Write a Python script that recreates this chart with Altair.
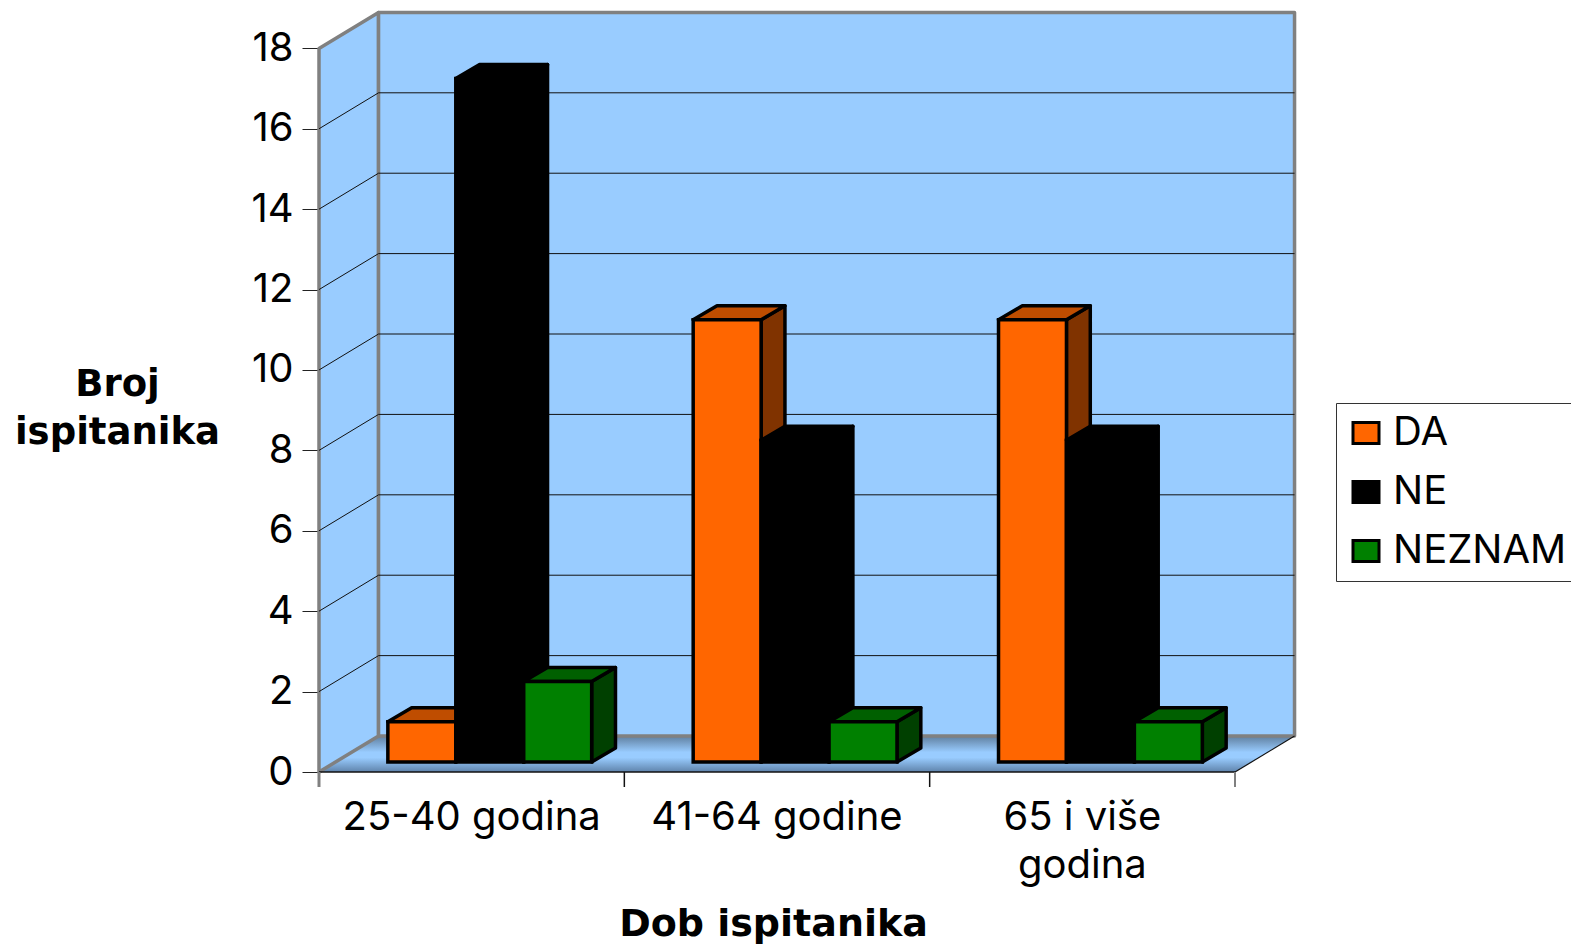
import altair as alt
import pandas as pd

CATEGORIES = ["25-40 godina", "41-64 godine", "65 i više\ngodina"]
SERIES = ["DA", "NE", "NEZNAM"]
VALUES = {"DA": [1, 11, 11], "NE": [17, 8, 8], "NEZNAM": [2, 1, 1]}
FRONT = ["#FF6600", "#000000", "#008000"]
TOP = ["#BF4D00", "#000000", "#006000"]
SIDE = ["#803300", "#000000", "#004000"]
TICKS = list(range(0, 20, 2))

FONT = "Inter"
BOLD_FONT = "DejaVu Sans"
WIDTH, HEIGHT = 976, 760
X_MAX, Y_MAX = 3.1965, 18.905
WALL_DX, WALL_DY = 0.195, 0.895     # wall depth in scale units
BAR_DX, BAR_DY = 0.078, 0.348       # bar depth
BAR_W, BAR_START, BAR_BASE = 0.2225, 0.2255, 0.25
TICK_DOWN = 15 / 40.2

X_SCALE = alt.Scale(domain=[0, X_MAX], nice=False, zero=False)
Y_SCALE = alt.Scale(domain=[0, Y_MAX], nice=False, zero=False)
X = lambda: alt.X("x:Q", scale=X_SCALE)
Y = lambda: alt.Y("y:Q", scale=Y_SCALE)


def poly(pts, pid=0):
    return [{"x": a, "y": b, "pid": pid, "i": n} for n, (a, b) in enumerate(pts)]


def shape(rows, **mark):
    m = dict(interpolate="linear-closed", strokeJoin="round")
    m.update(mark)
    return alt.Chart(pd.DataFrame(rows)).mark_line(**m).encode(
        x=X(), y=Y(), detail="pid:N", order="i:Q"
    )


axes_df = pd.DataFrame({"x": [0.0], "y": [0.0]})
axis_layer = alt.Chart(axes_df).mark_point(opacity=0).encode(
    x=alt.X("x:Q", scale=X_SCALE,
            title="Dob ispitanika",
            axis=alt.Axis(values=[], domain=False, ticks=False, labels=False, grid=False,
                          titleFont=BOLD_FONT, titleFontSize=38, titleFontWeight="bold", titleColor="#000000",
                          titleX=454, titleY=152, titleAlign="center", titleBaseline="middle")),
    y=alt.Y("y:Q", scale=Y_SCALE,
            title=["Broj", "ispitanika"],
            axis=alt.Axis(values=TICKS, domain=False, grid=False, tickSize=17, tickColor="#222222",
                          tickWidth=1, labelPadding=9, labelFont=FONT, labelFontSize=40, labelColor="#000000",
                          labelOverlap=False, labelFlush=False,
                          titleFont=BOLD_FONT, titleFontSize=37, titleFontWeight="bold", titleColor="#000000",
                          titleAngle=0, titleX=-202, titleY=372, titleAlign="center",
                          titleBaseline="middle", titleLineHeight=48)),
)

TOPY = 18 + WALL_DY
floor = shape(
    poly([(0, 0), (3, 0), (3 + WALL_DX, WALL_DY), (WALL_DX, WALL_DY)]),
    stroke="#99CCFF", strokeWidth=0,
    fill=alt.Gradient(
        gradient="linear", x1=0, y1=0, x2=0, y2=1,
        stops=[
            alt.GradientStop(color="#5F7F9F", offset=0),
            alt.GradientStop(color="#99CCFF", offset=0.45),
            alt.GradientStop(color="#99CCFF", offset=0.6),
            alt.GradientStop(color="#5F83AB", offset=1),
        ],
    ),
)
walls = shape(
    poly([(0, 0), (WALL_DX, WALL_DY), (WALL_DX, TOPY), (0, 18)], 0)
    + poly([(WALL_DX, WALL_DY), (3 + WALL_DX, WALL_DY), (3 + WALL_DX, TOPY), (WALL_DX, TOPY)], 1),
    fill="#99CCFF", stroke="#808080", strokeWidth=3.5,
)

grid_rows = []
for v in TICKS[1:-1]:
    grid_rows += poly([(0, v), (WALL_DX, v + WALL_DY), (3 + WALL_DX, v + WALL_DY)], v)
grid = shape(grid_rows, interpolate="linear", stroke="#111111", strokeWidth=1)

base_line = alt.Chart(pd.DataFrame({"x": [0.0], "x2": [3.0], "y": [0.0]})).mark_rule(
    color="#111111", strokeWidth=1.5).encode(x=X(), x2="x2:Q", y=Y())
right_diag = shape(poly([(3, 0), (3 + WALL_DX, WALL_DY)]), interpolate="linear",
                   stroke="#111111", strokeWidth=1.2)

tick_df = pd.DataFrame({"x": [0, 1, 2, 3], "y": [0.0] * 4, "y2": [-TICK_DOWN] * 4,
                        "c": ["#808080", "#111111", "#111111", "#808080"],
                        "w": [3, 1.5, 1.5, 2]})
cat_ticks = alt.Chart(tick_df).mark_rule().encode(
    x=X(), y=Y(), y2="y2:Q", color=alt.Color("c:N", scale=None),
    strokeWidth=alt.StrokeWidth("w:Q", scale=None),
)

cat_df = pd.DataFrame({"x": [i + 0.5 for i in range(len(CATEGORIES))], "y": [0.0] * 3, "t": CATEGORIES})
cat_text = alt.Chart(cat_df).mark_text(
    font=FONT, fontSize=40, baseline="top", align="center", lineBreak="\n", lineHeight=48, dy=26, color="#000000"
).encode(x=X(), y=Y(), text="t:N")

bars = []
for s_i, name in enumerate(SERIES):
    tops, sides, fronts = [], [], []
    for c_i, v in enumerate(VALUES[name]):
        x0 = c_i + BAR_START + s_i * BAR_W
        x1 = x0 + BAR_W
        y0, y1 = BAR_BASE, BAR_BASE + v
        sides += poly([(x1, y0), (x1 + BAR_DX, y0 + BAR_DY), (x1 + BAR_DX, y1 + BAR_DY), (x1, y1)], c_i)
        tops += poly([(x0, y1), (x1, y1), (x1 + BAR_DX, y1 + BAR_DY), (x0 + BAR_DX, y1 + BAR_DY)], c_i)
        fronts.append({"x": x0, "x2": x1, "y": y0, "y2": y1, "series": name})
    bars.append(shape(sides, fill=SIDE[s_i], stroke="#000000", strokeWidth=3.5))
    bars.append(shape(tops, fill=TOP[s_i], stroke="#000000", strokeWidth=3.5))
    bars.append(
        alt.Chart(pd.DataFrame(fronts)).mark_rect(stroke="#000000", strokeWidth=3.5).encode(
            x=X(), x2="x2:Q", y=Y(), y2="y2:Q",
            color=alt.Color(
                "series:N",
                scale=alt.Scale(domain=SERIES, range=FRONT),
                legend=alt.Legend(
                    title=None, orient="none", legendX=1017, legendY=391,
                    fillColor="#FFFFFF", strokeColor="#333333", padding=10,
                    symbolType="M-1,-0.8H1V0.8H-1Z", symbolSize=676, symbolStrokeColor="#000000",
                    symbolStrokeWidth=3, symbolOpacity=1,
                    labelFont=FONT, labelFontSize=40, labelColor="#000000", labelOffset=7,
                    rowPadding=19, labelLimit=400,
                ),
            ),
        )
    )

chart = alt.layer(
    axis_layer, floor, walls, grid, base_line, right_diag, cat_ticks, cat_text, *bars
).properties(
    width=WIDTH, height=HEIGHT,
    padding={"left": 311, "top": 4, "right": 276, "bottom": 172},
    autosize=alt.AutoSizeParams(type="none"),
    background="#FFFFFF",
).configure_view(stroke=None)

chart.save("out.html", embed_options={"renderer": "svg", "actions": False})
